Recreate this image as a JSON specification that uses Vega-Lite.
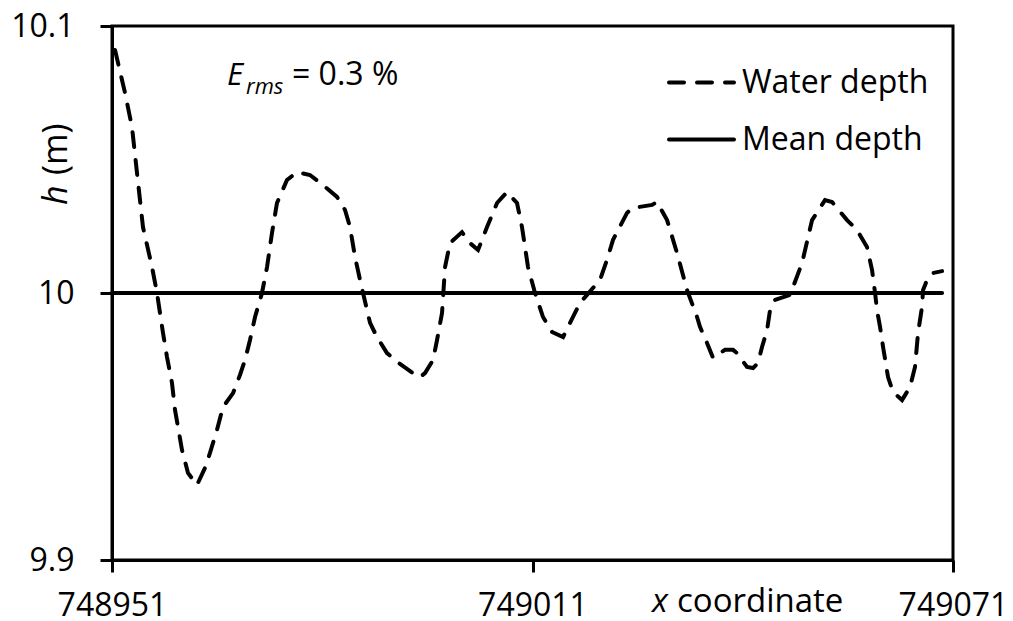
{
  "$schema": "https://vega.github.io/schema/vega-lite/v6.json",
  "autosize": "none",
  "width": 841,
  "height": 534,
  "padding": {"left": 112, "top": 26, "right": 60, "bottom": 61},
  "background": "white",
  "config": {
    "view": {"stroke": "black", "strokeWidth": 3},
    "axis": {
      "domainColor": "black", "domainWidth": 3, "tickColor": "black", "tickWidth": 3, "tickSize": 12,
      "labelFont": "Open Sans", "labelFontSize": 32, "labelColor": "black", "grid": false, "labelFlush": false, "labelOverlap": false
    },
    "axisX": {"labelPadding": 18},
    "axisY": {"labelPadding": 26},
    "legend": {
      "orient": "none", "legendX": 555, "legendY": 22, "padding": 0,
      "symbolType": "stroke", "symbolSize": 4225, "symbolStrokeWidth": 4, "symbolStrokeColor": "black",
      "labelFont": "Open Sans", "labelFontSize": 32, "labelColor": "black", "labelOffset": 6,
      "labelLimit": 400
    },
    "text": {"font": "Open Sans", "color": "black"}
  },
  "datasets": {
    "curve": [
      {"series": "Water depth", "X": 748951.43, "Y": 10.091},
      {"series": "Water depth", "X": 748952.86, "Y": 10.0749},
      {"series": "Water depth", "X": 748953.85, "Y": 10.0622},
      {"series": "Water depth", "X": 748954.57, "Y": 10.0449},
      {"series": "Water depth", "X": 748955.42, "Y": 10.0247},
      {"series": "Water depth", "X": 748956.71, "Y": 10.0097},
      {"series": "Water depth", "X": 748957.42, "Y": 10.0},
      {"series": "Water depth", "X": 748958.28, "Y": 9.985},
      {"series": "Water depth", "X": 748958.85, "Y": 9.976},
      {"series": "Water depth", "X": 748959.56, "Y": 9.9663},
      {"series": "Water depth", "X": 748959.99, "Y": 9.9562},
      {"series": "Water depth", "X": 748960.99, "Y": 9.9412},
      {"series": "Water depth", "X": 748961.84, "Y": 9.9326},
      {"series": "Water depth", "X": 748963.13, "Y": 9.9281},
      {"series": "Water depth", "X": 748964.27, "Y": 9.9345},
      {"series": "Water depth", "X": 748964.98, "Y": 9.9401},
      {"series": "Water depth", "X": 748965.98, "Y": 9.9487},
      {"series": "Water depth", "X": 748966.84, "Y": 9.9573},
      {"series": "Water depth", "X": 748968.27, "Y": 9.9625},
      {"series": "Water depth", "X": 748969.26, "Y": 9.9693},
      {"series": "Water depth", "X": 748969.98, "Y": 9.9749},
      {"series": "Water depth", "X": 748970.69, "Y": 9.9824},
      {"series": "Water depth", "X": 748971.41, "Y": 9.991},
      {"series": "Water depth", "X": 748972.4, "Y": 10.0},
      {"series": "Water depth", "X": 748973.12, "Y": 10.0097},
      {"series": "Water depth", "X": 748973.83, "Y": 10.0225},
      {"series": "Water depth", "X": 748974.54, "Y": 10.0337},
      {"series": "Water depth", "X": 748975.97, "Y": 10.0423},
      {"series": "Water depth", "X": 748977.4, "Y": 10.0453},
      {"series": "Water depth", "X": 748979.25, "Y": 10.0442},
      {"series": "Water depth", "X": 748981.11, "Y": 10.0404},
      {"series": "Water depth", "X": 748983.11, "Y": 10.036},
      {"series": "Water depth", "X": 748984.25, "Y": 10.0311},
      {"series": "Water depth", "X": 748984.96, "Y": 10.0247},
      {"series": "Water depth", "X": 748985.68, "Y": 10.0135},
      {"series": "Water depth", "X": 748986.39, "Y": 10.0049},
      {"series": "Water depth", "X": 748986.82, "Y": 10.0},
      {"series": "Water depth", "X": 748987.82, "Y": 9.9888},
      {"series": "Water depth", "X": 748988.81, "Y": 9.9835},
      {"series": "Water depth", "X": 748990.24, "Y": 9.9775},
      {"series": "Water depth", "X": 748991.67, "Y": 9.9742},
      {"series": "Water depth", "X": 748993.95, "Y": 9.97},
      {"series": "Water depth", "X": 748994.95, "Y": 9.9685},
      {"series": "Water depth", "X": 748995.66, "Y": 9.97},
      {"series": "Water depth", "X": 748996.81, "Y": 9.9749},
      {"series": "Water depth", "X": 748997.38, "Y": 9.9824},
      {"series": "Water depth", "X": 748998.09, "Y": 9.9925},
      {"series": "Water depth", "X": 748998.52, "Y": 10.0097},
      {"series": "Water depth", "X": 748999.23, "Y": 10.0187},
      {"series": "Water depth", "X": 749000.94, "Y": 10.0228},
      {"series": "Water depth", "X": 749002.08, "Y": 10.0187},
      {"series": "Water depth", "X": 749003.23, "Y": 10.0161},
      {"series": "Water depth", "X": 749004.51, "Y": 10.0247},
      {"series": "Water depth", "X": 749005.94, "Y": 10.0337},
      {"series": "Water depth", "X": 749007.36, "Y": 10.0378},
      {"series": "Water depth", "X": 749008.79, "Y": 10.0337},
      {"series": "Water depth", "X": 749009.5, "Y": 10.0247},
      {"series": "Water depth", "X": 749010.36, "Y": 10.0097},
      {"series": "Water depth", "X": 749011.36, "Y": 10.0},
      {"series": "Water depth", "X": 749012.5, "Y": 9.991},
      {"series": "Water depth", "X": 749013.79, "Y": 9.9854},
      {"series": "Water depth", "X": 749015.36, "Y": 9.9835},
      {"series": "Water depth", "X": 749016.35, "Y": 9.9888},
      {"series": "Water depth", "X": 749017.78, "Y": 9.9963},
      {"series": "Water depth", "X": 749020.63, "Y": 10.0049},
      {"series": "Water depth", "X": 749021.63, "Y": 10.0124},
      {"series": "Water depth", "X": 749022.49, "Y": 10.0199},
      {"series": "Water depth", "X": 749024.49, "Y": 10.03},
      {"series": "Water depth", "X": 749025.2, "Y": 10.0318},
      {"series": "Water depth", "X": 749028.06, "Y": 10.033},
      {"series": "Water depth", "X": 749028.77, "Y": 10.0341},
      {"series": "Water depth", "X": 749030.2, "Y": 10.0273},
      {"series": "Water depth", "X": 749031.62, "Y": 10.015},
      {"series": "Water depth", "X": 749033.05, "Y": 10.0011},
      {"series": "Water depth", "X": 749034.48, "Y": 9.991},
      {"series": "Water depth", "X": 749034.9, "Y": 9.9873},
      {"series": "Water depth", "X": 749035.9, "Y": 9.9813},
      {"series": "Water depth", "X": 749036.76, "Y": 9.9757},
      {"series": "Water depth", "X": 749038.47, "Y": 9.9787},
      {"series": "Water depth", "X": 749039.61, "Y": 9.9787},
      {"series": "Water depth", "X": 749040.18, "Y": 9.9775},
      {"series": "Water depth", "X": 749041.61, "Y": 9.9723},
      {"series": "Water depth", "X": 749042.47, "Y": 9.9719},
      {"series": "Water depth", "X": 749043.18, "Y": 9.9738},
      {"series": "Water depth", "X": 749043.75, "Y": 9.9798},
      {"series": "Water depth", "X": 749044.47, "Y": 9.9861},
      {"series": "Water depth", "X": 749044.89, "Y": 9.9936},
      {"series": "Water depth", "X": 749045.61, "Y": 9.9974},
      {"series": "Water depth", "X": 749047.75, "Y": 9.9993},
      {"series": "Water depth", "X": 749049.46, "Y": 10.0112},
      {"series": "Water depth", "X": 749050.89, "Y": 10.0273},
      {"series": "Water depth", "X": 749052.74, "Y": 10.0348},
      {"series": "Water depth", "X": 749053.74, "Y": 10.0341},
      {"series": "Water depth", "X": 749055.88, "Y": 10.0273},
      {"series": "Water depth", "X": 749057.31, "Y": 10.0236},
      {"series": "Water depth", "X": 749058.73, "Y": 10.0172},
      {"series": "Water depth", "X": 749059.45, "Y": 10.0086},
      {"series": "Water depth", "X": 749059.88, "Y": 10.0},
      {"series": "Water depth", "X": 749060.16, "Y": 9.9936},
      {"series": "Water depth", "X": 749060.59, "Y": 9.9873},
      {"series": "Water depth", "X": 749061.02, "Y": 9.9798},
      {"series": "Water depth", "X": 749061.73, "Y": 9.9685},
      {"series": "Water depth", "X": 749062.44, "Y": 9.9629},
      {"series": "Water depth", "X": 749063.73, "Y": 9.9599},
      {"series": "Water depth", "X": 749064.87, "Y": 9.9648},
      {"series": "Water depth", "X": 749065.58, "Y": 9.9723},
      {"series": "Water depth", "X": 749066.01, "Y": 9.985},
      {"series": "Water depth", "X": 749066.58, "Y": 9.9948},
      {"series": "Water depth", "X": 749066.73, "Y": 10.0011},
      {"series": "Water depth", "X": 749067.3, "Y": 10.0049},
      {"series": "Water depth", "X": 749068.15, "Y": 10.0075},
      {"series": "Water depth", "X": 749069.44, "Y": 10.0082},
      {"series": "Mean depth", "X": 748951, "Y": 10.0},
      {"series": "Mean depth", "X": 749069.44, "Y": 10.0}
    ],
    "notes": [
      {"t": "E", "X": 748967.41, "Y": 10.0779},
      {"t": "rms", "X": 748970.12, "Y": 10.0745},
      {"t": "= 0.3 %", "X": 748976.68, "Y": 10.0779},
      {"t": "x", "X": 749028.05, "Y": 9.8805},
      {"t": "coordinate", "X": 749031.62, "Y": 9.8805},
      {"t": "h", "X": 748944.6, "Y": 10.033},
      {"t": "(m)", "X": 748944.6, "Y": 10.0442}
    ]
  },
  "encoding": {
    "x": {
      "field": "X", "type": "quantitative",
      "scale": {"domain": [748951, 749071], "nice": false, "zero": false},
      "axis": {"values": [748951, 749011, 749071], "format": "d", "title": null}
    },
    "y": {
      "field": "Y", "type": "quantitative",
      "scale": {"domain": [9.9, 10.1], "nice": false, "zero": false},
      "axis": {"values": [9.9, 10, 10.1], "format": "~g", "title": null}
    }
  },
  "layer": [
    {
      "data": {"name": "curve"},
      "mark": {"type": "line", "color": "black", "strokeWidth": 4, "strokeCap": "round"},
      "encoding": {
        "strokeDash": {
          "field": "series", "type": "nominal",
          "scale": {"domain": ["Water depth", "Mean depth"], "range": [[15, 13], [1, 0]]},
          "legend": {
            "title": null,
            "rowPadding": 6,
            "encode": {
              "symbols": {
                "update": {
                  "strokeDash": {"signal": "datum.value === 'Water depth' ? [12, 21] : [1, 0]"},
                  "strokeCap": {"value": "round"}
                }
              }
            }
          }
        }
      }
    },
    {
      "data": {"name": "notes"},
      "transform": [{"filter": "datum.t === 'E'"}],
      "mark": {"type": "text", "align": "left", "baseline": "alphabetic", "fontSize": 31, "fontStyle": "italic"},
      "encoding": {"text": {"field": "t"}}
    },
    {
      "data": {"name": "notes"},
      "transform": [{"filter": "datum.t === 'rms'"}],
      "mark": {"type": "text", "align": "left", "baseline": "alphabetic", "fontSize": 22, "fontStyle": "italic"},
      "encoding": {"text": {"field": "t"}}
    },
    {
      "data": {"name": "notes"},
      "transform": [{"filter": "datum.t === '= 0.3 %'"}],
      "mark": {"type": "text", "align": "left", "baseline": "alphabetic", "fontSize": 32},
      "encoding": {"text": {"field": "t"}}
    },
    {
      "data": {"name": "notes"},
      "transform": [{"filter": "datum.t === 'x'"}],
      "mark": {"type": "text", "align": "left", "baseline": "alphabetic", "fontSize": 33, "fontStyle": "italic"},
      "encoding": {"text": {"field": "t"}}
    },
    {
      "data": {"name": "notes"},
      "transform": [{"filter": "datum.t === 'coordinate'"}],
      "mark": {"type": "text", "align": "left", "baseline": "alphabetic", "fontSize": 33},
      "encoding": {"text": {"field": "t"}}
    },
    {
      "data": {"name": "notes"},
      "transform": [{"filter": "datum.t === 'h'"}],
      "mark": {"type": "text", "align": "left", "baseline": "alphabetic", "fontSize": 34, "fontStyle": "italic", "angle": 270},
      "encoding": {"text": {"field": "t"}}
    },
    {
      "data": {"name": "notes"},
      "transform": [{"filter": "datum.t === '(m)'"}],
      "mark": {"type": "text", "align": "left", "baseline": "alphabetic", "fontSize": 34, "angle": 270},
      "encoding": {"text": {"field": "t"}}
    }
  ]
}
